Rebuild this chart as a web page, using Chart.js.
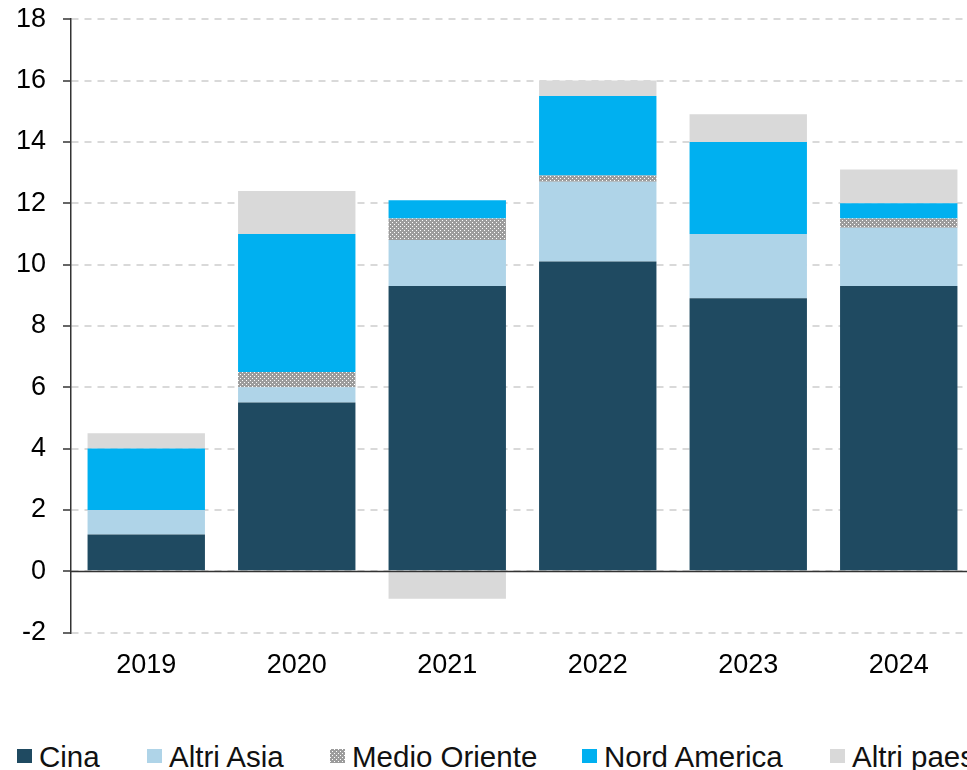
<!DOCTYPE html>
<html>
<head>
<meta charset="utf-8">
<script src="https://cdn.jsdelivr.net/npm/chart.js@4.4.1/dist/chart.umd.min.js"></script>
<style>
  html, body { margin: 0; padding: 0; background: #fff; overflow: hidden; }
  #wrap { position: relative; width: 967px; height: 770px; overflow: hidden; }
  #box { position: absolute; left: 0; top: -14px; width: 976px; height: 714px; }
  #legend { position: absolute; left: 0; top: 741px; width: 1100px; height: 32px;
            font-family: "Liberation Sans", Arial, sans-serif; font-size: 29.5px; color: #111; }
  .item { position: absolute; top: 0; white-space: nowrap; line-height: 32px; }
  .swatch { position: absolute; left: 0; top: 8px; width: 15px; height: 14px; }
  .label { position: absolute; left: 22px; top: 0; }
</style>
</head>
<body>
<div id="wrap">
  <div id="box"><canvas id="chart"></canvas></div>
  <div id="legend"></div>
</div>
<script>
// dati
const years = ['2019', '2020', '2021', '2022', '2023', '2024'];
const cina = [1.2, 5.5, 9.3, 10.1, 8.9, 9.3];
const altriAsia = [0.8, 0.5, 1.5, 2.6, 2.1, 1.9];
const medioOriente = [0, 0.5, 0.7, 0.2, 0, 0.3];
const nordAmerica = [2.0, 4.5, 0.6, 2.6, 3.0, 0.5];
const altriPaesi = [0.5, 1.4, -0.9, 0.5, 0.9, 1.1];
const seriesNames = ['Cina', 'Altri Asia', 'Medio Oriente', 'Nord America', 'Altri paesi'];
const yMin = -2;
const yMax = 18;
const yStep = 2;

(() => {
    'use strict';

    const FONT = '"Liberation Sans", Arial, sans-serif';

    // pattern puntinato per Medio Oriente
    const tile = document.createElement('canvas');
    tile.width = 4;
    tile.height = 4;
    const tctx = tile.getContext('2d');
    tctx.fillStyle = '#9c9c9c';
    tctx.fillRect(0, 0, 4, 4);
    tctx.fillStyle = '#ffffff';
    tctx.fillRect(0, 0, 1, 1);
    tctx.fillRect(2, 2, 1, 1);

    const ctx = document.getElementById('chart').getContext('2d');
    const dots = ctx.createPattern(tile, 'repeat');

    const colors = ['#1f4a61', '#afd4e8', dots, '#00b0f0', '#d9d9d9'];
    const values = [cina, altriAsia, medioOriente, nordAmerica, altriPaesi];

    // linea dello zero sopra le barre
    const zeroLine = {
        id: 'zeroLine',
        afterDatasetsDraw(chart) {
            const { ctx, chartArea, scales } = chart;
            const y = Math.round(scales.y.getPixelForValue(0)) + 0.5;
            ctx.save();
            ctx.strokeStyle = '#333';
            ctx.lineWidth = 1.5;
            ctx.beginPath();
            ctx.moveTo(chartArea.left, y);
            ctx.lineTo(chartArea.right, y);
            ctx.stroke();
            ctx.restore();
        }
    };

    new Chart(ctx, {
        type: 'bar',
        data: {
            labels: years,
            datasets: seriesNames.map((name, i) => ({
                label: name,
                data: values[i],
                backgroundColor: colors[i],
                borderWidth: 0,
                barPercentage: 0.78,
                categoryPercentage: 1.0
            }))
        },
        options: {
            responsive: true,
            maintainAspectRatio: false,
            animation: false,
            devicePixelRatio: 1,
            layout: { padding: { top: 5, right: 2, bottom: 1, left: 0 } },
            plugins: {
                legend: { display: false },
                tooltip: { enabled: false }
            },
            scales: {
                x: {
                    stacked: true,
                    grid: { display: false, drawTicks: false },
                    border: { display: false },
                    ticks: { color: '#000', padding: 17, font: { family: FONT, size: 27 } }
                },
                y: {
                    stacked: true,
                    min: yMin,
                    max: yMax,
                    afterFit: s => { s.width = 71; },
                    ticks: { stepSize: yStep, color: '#000', padding: 17, font: { family: FONT, size: 27 } },
                    grid: {
                        color: '#d9d9d9',
                        lineWidth: 2,
                        tickColor: '#333',
                        tickLength: 8,
                        tickWidth: 1.5
                    },
                    border: { display: true, color: '#333', width: 1.5, dash: [7, 6] }
                }
            }
        },
        plugins: [zeroLine]
    });

    // legenda html
    const legend = document.getElementById('legend');
    const lefts = [17, 147, 330, 582, 830];
    seriesNames.forEach((name, i) => {
        const item = document.createElement('div');
        item.className = 'item';
        item.style.left = lefts[i] + 'px';
        const sw = document.createElement('span');
        sw.className = 'swatch';
        if (i === 2) {
            sw.style.backgroundImage = 'url(' + tile.toDataURL() + ')';
        } else {
            sw.style.background = colors[i];
        }
        const lb = document.createElement('span');
        lb.className = 'label';
        lb.textContent = name;
        item.appendChild(sw);
        item.appendChild(lb);
        legend.appendChild(item);
    });
})();
</script>
</body>
</html>
